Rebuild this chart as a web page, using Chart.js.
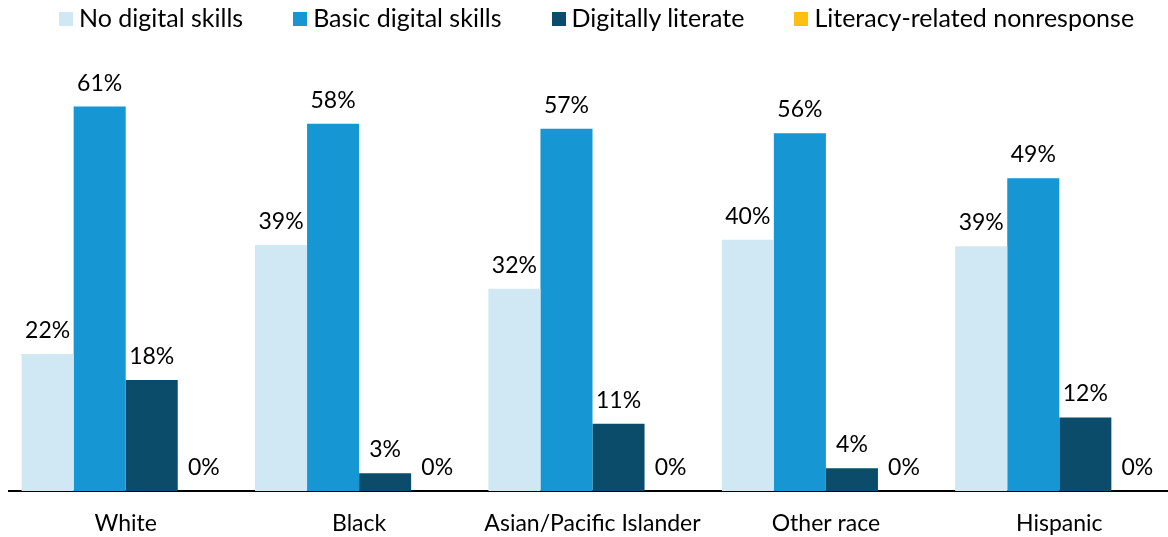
<!DOCTYPE html>
<html>
<head>
<meta charset="utf-8">
<script src="https://cdn.jsdelivr.net/npm/chart.js@4.4.1/dist/chart.umd.min.js"></script>
<style>
  html, body { margin: 0; padding: 0; background: #fff; }
  #wrap { width: 1168px; height: 537px; position: relative; overflow: hidden; }
  #plot { width: 1176px; height: 537px; position: relative; }
  #legend { position: absolute; left: 59px; top: 5px; z-index: 1; display: flex; font-family: Lato; font-size: 25px; line-height: 24px; color: #000; white-space: nowrap; }
  #legend .item { display: flex; align-items: flex-start; margin-right: 50px; }
  #legend .box { width: 14px; height: 14px; margin-top: 7px; margin-right: 6px; }
</style>
</head>
<body>
<div id="wrap">
  <div id="legend"></div>
  <div id="plot"><canvas id="chart"></canvas></div>
</div>
<script>
// categories and series
const categories = ['White', 'Black', 'Asian/Pacific Islander', 'Other race', 'Hispanic'];
const seriesNames = ['No digital skills', 'Basic digital skills', 'Digitally literate', 'Literacy-related nonresponse'];
const noSkills = [21.6, 38.8, 31.9, 39.6, 38.6];
const basicSkills = [60.6, 57.9, 57.1, 56.4, 49.3];
const literate = [17.5, 2.8, 10.6, 3.6, 11.6];
const nonresponse = [0, 0, 0, 0, 0];
const colors = ['#cfe8f3', '#1696d2', '#0a4c6a', '#fdbf11'];

const font = 'Lato';

// legend built from the series names
const legend = document.getElementById('legend');
seriesNames.forEach((name, i) => {
  const item = document.createElement('div');
  item.className = 'item';
  item.innerHTML = '<span class="box" style="background:' + colors[i] + '"></span><span>' + name + '</span>';
  legend.appendChild(item);
});

// draws the percentage above each bar
const valueLabels = {
  id: 'valueLabels',
  afterDatasetsDraw(chart) {
    const ctx = chart.ctx;
    ctx.save();
    ctx.font = '23px ' + font;
    ctx.fillStyle = '#000';
    ctx.textAlign = 'center';
    ctx.textBaseline = 'alphabetic';
    chart.data.datasets.forEach((ds, i) => {
      chart.getDatasetMeta(i).data.forEach((bar, j) => {
        ctx.fillText(Math.round(ds.data[j]) + '%', bar.x, bar.y - 16);
      });
    });
    ctx.restore();
  }
};

const values = [noSkills, basicSkills, literate, nonresponse];

new Chart(document.getElementById('chart'), {
  type: 'bar',
  data: {
    labels: categories,
    datasets: values.map((v, i) => ({
      label: seriesNames[i],
      data: v,
      backgroundColor: colors[i],
      borderWidth: 0,
      categoryPercentage: 0.892,
      barPercentage: 1.0
    }))
  },
  options: {
    responsive: true,
    maintainAspectRatio: false,
    animation: false,
    layout: { padding: { left: 9, right: 0, top: 47, bottom: 0 } },
    plugins: {
      legend: { display: false },
      tooltip: { enabled: false }
    },
    scales: {
      x: {
        grid: { display: false, drawTicks: false },
        border: { display: true, color: '#000', width: 2 },
        ticks: { color: '#000', padding: 19, maxRotation: 0, font: { family: font, size: 23 } },
        afterFit(scale) { scale.height = 46; }
      },
      y: {
        display: false,
        min: 0,
        max: 70
      }
    }
  },
  plugins: [valueLabels]
});
</script>
</body>
</html>
